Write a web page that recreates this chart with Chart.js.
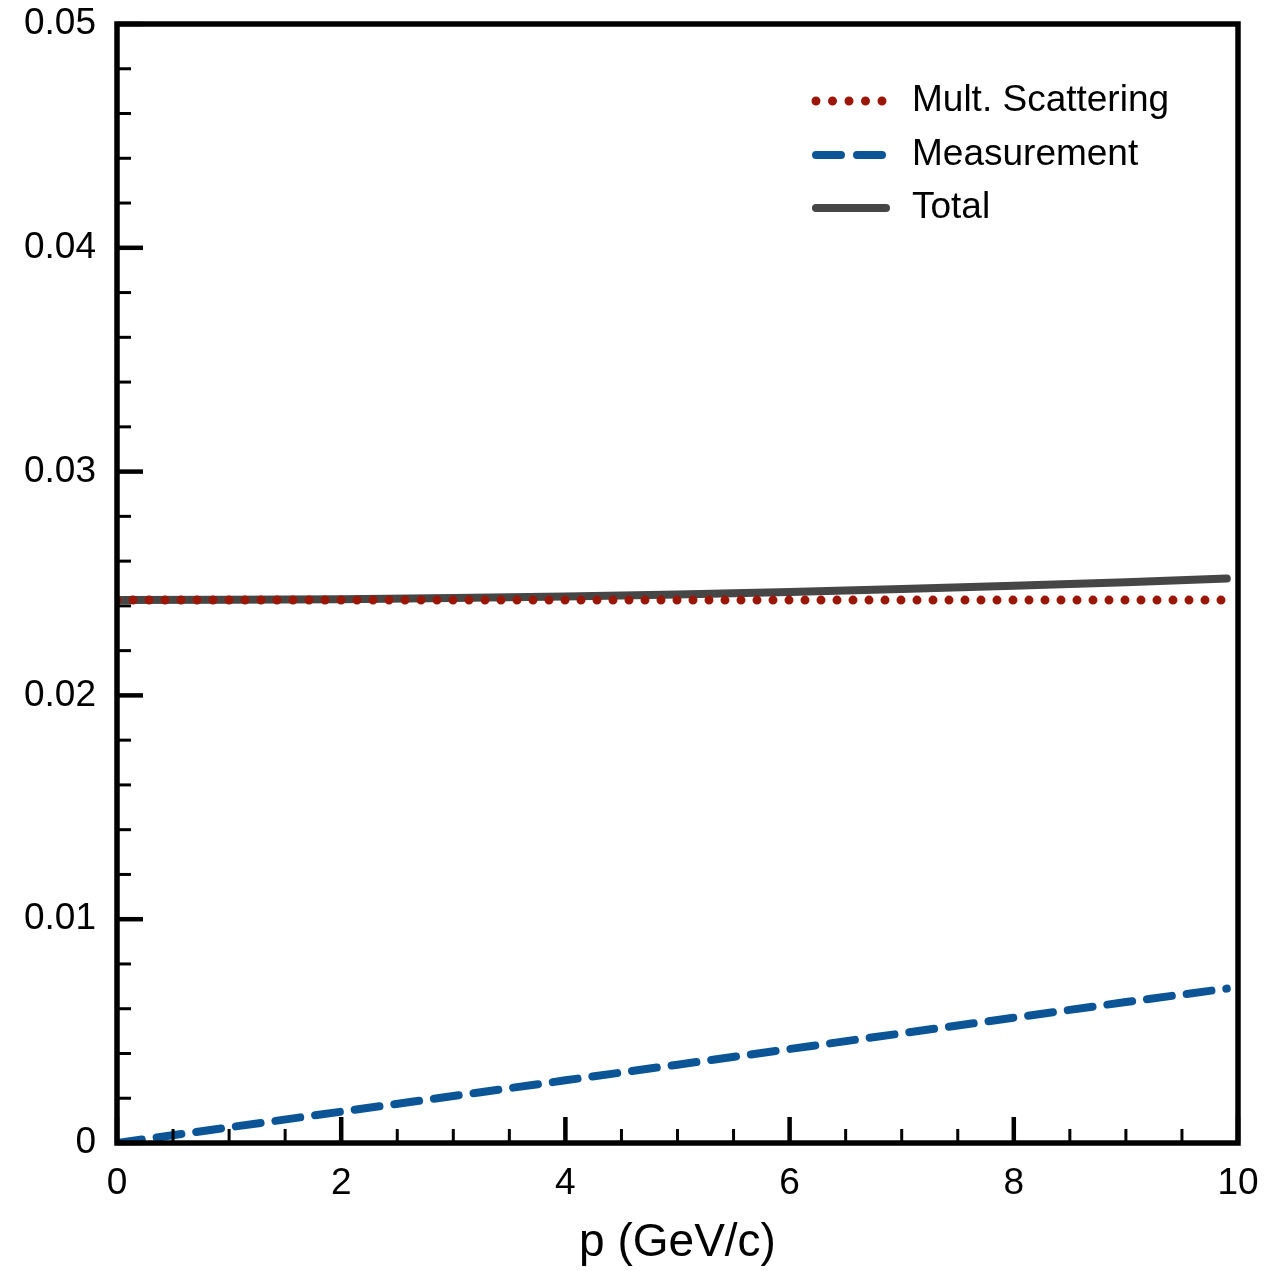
<!DOCTYPE html>
<html>
<head>
<meta charset="utf-8">
<script src="https://cdn.jsdelivr.net/npm/chart.js"></script>
<style>
  body { margin: 0; background: #ffffff; }
  canvas { display: block; }
</style>
</head>
<body>
<canvas id="resolutionChart" width="1283" height="1271"></canvas>

<script>
  // momentum values (x axis)
  const momentum = [0, 1, 2, 3, 4, 5, 6, 7, 8, 9, 9.9]
  // the three curves
  const multScattering = [0.02426, 0.02426, 0.02426, 0.02426, 0.02426, 0.02426, 0.02426, 0.02426, 0.02426, 0.02426, 0.02426]
  const measurement = [0, 0.0007, 0.0014, 0.0021, 0.0028, 0.0035, 0.0042, 0.0049, 0.0056, 0.0063, 0.0069]
  const total = [0.02426, 0.02427, 0.02430, 0.02435, 0.02442, 0.02451, 0.02462, 0.02475, 0.02490, 0.02506, 0.02522]

  // tick labels
  const xTickValues = [0, 2, 4, 6, 8, 10]
  const yTickValues = [0, 0.01, 0.02, 0.03, 0.04, 0.05]
  const xTitle = 'p (GeV/c)'

  const fontFamily = '"Liberation Sans", Arial, Helvetica, sans-serif'

  function toPoints(xs, ys) {
    return xs.map((x, i) => ({ x: x, y: ys[i] }))
  }

  // frame, inward ticks and legend are drawn here
  const framePlugin = {
    id: 'frame',
    afterDraw(chart) {
      const ctx = chart.ctx
      const area = chart.chartArea
      const xs = chart.scales.x
      const ys = chart.scales.y
      ctx.save()
      ctx.strokeStyle = '#000000'
      ctx.lineCap = 'butt'

      // minor + major ticks on left axis
      for (let v = 0; v <= 0.05 + 1e-9; v += 0.002) {
        const py = ys.getPixelForValue(v)
        const isMajor = Math.abs(v / 0.01 - Math.round(v / 0.01)) < 1e-6
        ctx.lineWidth = isMajor ? 4.5 : 3
        const len = isMajor ? 26 : 14
        ctx.beginPath()
        ctx.moveTo(area.left, py)
        ctx.lineTo(area.left + len, py)
        ctx.stroke()
      }
      // ticks on bottom axis
      for (let v = 0; v <= 10 + 1e-9; v += 0.5) {
        const px = xs.getPixelForValue(v)
        const isMajor = Math.abs(v / 2 - Math.round(v / 2)) < 1e-6
        ctx.lineWidth = isMajor ? 4.5 : 3
        const len = isMajor ? 26 : 14
        ctx.beginPath()
        ctx.moveTo(px, area.bottom)
        ctx.lineTo(px, area.bottom - len)
        ctx.stroke()
      }

      // frame
      ctx.lineWidth = 5.5
      ctx.strokeRect(area.left, area.top, area.right - area.left, area.bottom - area.top)

      // legend
      const legendX = 816
      const legendY = [101, 155, 208]
      chart.data.datasets.forEach((ds, i) => {
        ctx.beginPath()
        ctx.strokeStyle = ds.borderColor
        ctx.lineWidth = ds.borderWidth
        ctx.lineCap = 'round'
        ctx.setLineDash(ds.legendDash)
        ctx.moveTo(legendX, legendY[i])
        ctx.lineTo(legendX + 70, legendY[i])
        ctx.stroke()
        ctx.setLineDash([])
        ctx.fillStyle = '#000000'
        ctx.font = '37px ' + fontFamily
        ctx.textBaseline = 'middle'
        ctx.textAlign = 'left'
        ctx.fillText(ds.label, 912, legendY[i])
      })
      ctx.restore()
    }
  }

  const ctx = document.getElementById('resolutionChart')

  new Chart(ctx, {
    type: 'line',
    data: {
      datasets: [{
        label: 'Mult. Scattering',
        data: toPoints(momentum, multScattering),
        borderColor: '#9b1606',
        borderWidth: 9,
        borderDash: [0, 16],
        borderCapStyle: 'round',
        legendDash: [0, 16.5],
        pointRadius: 0,
        fill: false
      }, {
        label: 'Measurement',
        data: toPoints(momentum, measurement),
        borderColor: '#0b5597',
        borderWidth: 8,
        borderDash: [25, 15],
        borderCapStyle: 'round',
        legendDash: [25, 16],
        pointRadius: 0,
        fill: false
      }, {
        label: 'Total',
        data: toPoints(momentum, total),
        borderColor: '#464646',
        borderWidth: 8,
        borderCapStyle: 'round',
        legendDash: [],
        pointRadius: 0,
        fill: false
      }]
    },
    options: {
      responsive: false,
      animation: false,
      devicePixelRatio: 1,
      layout: {
        padding: { top: 24, right: 45, bottom: 0, left: 0 }
      },
      plugins: {
        legend: { display: false },
        tooltip: { enabled: false }
      },
      scales: {
        x: {
          type: 'linear',
          min: 0,
          max: 10,
          afterFit: (scale) => {
            scale.height = 128
            scale.paddingLeft = 0
            scale.paddingRight = 0
          },
          afterBuildTicks: (scale) => { scale.ticks = xTickValues.map(v => ({ value: v })) },
          grid: { display: false, drawTicks: false },
          border: { display: false },
          ticks: {
            color: '#000000',
            font: { family: fontFamily, size: 37 },
            padding: 19,
            maxRotation: 0,
            callback: (v) => String(v)
          },
          title: {
            display: true,
            text: xTitle,
            color: '#000000',
            font: { family: fontFamily, size: 46, lineHeight: 1 },
            padding: { top: 0, bottom: 5 }
          }
        },
        y: {
          type: 'linear',
          min: 0,
          max: 0.05,
          afterFit: (scale) => {
            scale.width = 117
            scale.paddingTop = 0
            scale.paddingBottom = 0
          },
          afterBuildTicks: (scale) => { scale.ticks = yTickValues.map(v => ({ value: v })) },
          grid: { display: false, drawTicks: false },
          border: { display: false },
          ticks: {
            color: '#000000',
            font: { family: fontFamily, size: 37 },
            padding: 21,
            callback: (v) => v === 0 ? '0' : v.toFixed(2)
          }
        }
      }
    },
    plugins: [framePlugin]
  })
</script>
</body>
</html>
